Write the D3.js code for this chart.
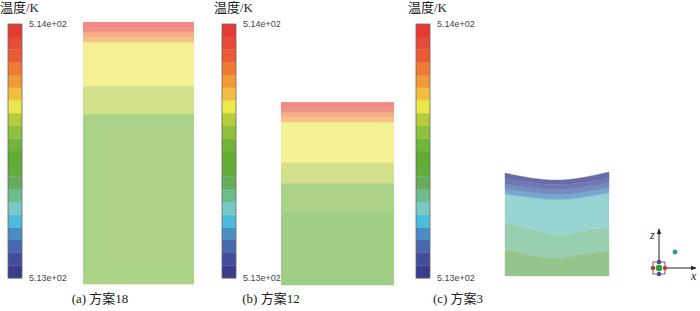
<!DOCTYPE html>
<html>
<head>
<meta charset="utf-8">
<script src="https://cdn.jsdelivr.net/npm/d3@7"></script>
<style>
  body { margin: 0; background: #fff; }
  svg { display: block; }
</style>
</head>
<body>
<svg width="700" height="311"></svg>
<script>

// colour map of the legend, from coldest (level 0) to hottest (level 19)
var colormap = ["#3a3c8c", "#424e9c", "#4a68ac", "#4c8cc4", "#4cbcdc",
                "#78c8c4", "#6cbc8c", "#66ac5c", "#64ac3c", "#62ac34",
                "#72b43a", "#8ec03c", "#b4cc3e", "#ece84c", "#f2be40",
                "#f29a38", "#ee7a34", "#ea5a34", "#e84a3a", "#e63a35"];
var tempRange = [513, 514];
var tickLabels = ["5.13e+02", "5.14e+02"];
var legendTitle = "温度/K";
var captions = ["(a) 方案18", "(b) 方案12", "(c) 方案3"];

// flat bands, heights as fraction of the tallest column: [bottom, top, level]
var bandsA = [[0, 0.649, 10], [0.649, 0.756, 12], [0.756, 0.924, 13],
              [0.924, 0.943, 15], [0.943, 0.962, 16], [0.962, 0.981, 18], [0.981, 1.0, 19]];
var bandsB = [[0, 0.275, 9], [0.275, 0.389, 10], [0.389, 0.469, 12], [0.469, 0.622, 13],
              [0.622, 0.641, 15], [0.641, 0.660, 16], [0.660, 0.679, 18], [0.679, 0.698, 19]];

// curved bands of case 3: boundary heights at x = 0, .25, .5, .75, 1
var xsC = [0, 0.25, 0.5, 0.75, 1];
var boundsC = [
  [0, 0, 0, 0, 0],
  [0.099, 0.081, 0.069, 0.084, 0.095],
  [0.206, 0.180, 0.158, 0.172, 0.187],
  [0.313, 0.300, 0.292, 0.301, 0.317],
  [0.332, 0.319, 0.311, 0.320, 0.336],
  [0.351, 0.338, 0.330, 0.339, 0.355],
  [0.370, 0.357, 0.349, 0.358, 0.374],
  [0.393, 0.374, 0.366, 0.376, 0.397]
];
var levelsC = [7, 6, 5, 3, 2, 1, 0];

var svg = d3.select("svg");
var serif = "'Liberation Serif', 'Noto Sans CJK SC', serif";
var sans = "'Liberation Sans', Arial, sans-serif";

function tint(level, a) {
  var c = d3.rgb(colormap[level]);
  return d3.rgb(c.r * a + 255 * (1 - a), c.g * a + 255 * (1 - a), c.b * a + 255 * (1 - a)).toString();
}

// ---- legends ----
var legendX = [8, 222, 416];
var levelBand = d3.scaleBand().domain(d3.range(colormap.length).reverse()).range([24, 278]);
var tScale = d3.scaleLinear().domain(tempRange).range([278, 24]);

legendX.forEach(function(x0) {
  var g = svg.append("g");
  g.append("text").attr("x", x0 - 8).attr("y", 12)
    .style("font-family", serif).style("font-size", "13px").attr("fill", "#222")
    .text(legendTitle);
  g.selectAll("rect.seg").data(colormap).enter().append("rect")
    .attr("class", "seg")
    .attr("x", x0).attr("width", 14)
    .attr("y", function(d, i) { return levelBand(i); })
    .attr("height", levelBand.bandwidth() + 0.3)
    .attr("fill", function(d) { return d; });
  g.append("rect").attr("x", x0).attr("y", 24).attr("width", 14).attr("height", 254)
    .attr("fill", "none").attr("stroke", "#666").attr("stroke-width", 0.8);
  g.selectAll("text.tick").data(tempRange).enter().append("text")
    .attr("class", "tick")
    .attr("x", x0 + 21)
    .attr("y", function(d) { return tScale(d) + 3; })
    .style("font-family", sans).style("font-size", "9px").attr("fill", "#444")
    .text(function(d, i) { return tickLabels[i]; });
});

// ---- flat columns ----
function drawFlat(bands, x0, x1, bottom) {
  var y = d3.scaleLinear().domain([0, 1]).range([bottom, bottom - 262]);
  svg.append("g").selectAll("rect").data(bands).enter().append("rect")
    .attr("x", x0).attr("width", x1 - x0)
    .attr("y", function(d) { return y(d[1]); })
    .attr("height", function(d) { return y(d[0]) - y(d[1]) + 0.3; })
    .attr("fill", function(d) { return tint(d[2], 0.6); });
}
drawFlat(bandsA, 83, 194, 284);
drawFlat(bandsB, 281, 394, 285);

// ---- curved column ----
var xC = d3.scaleLinear().domain([0, 1]).range([505, 609]);
var yC = d3.scaleLinear().domain([0, 1]).range([276, 14]);
var line = d3.line().x(function(d) { return xC(d[0]); }).y(function(d) { return yC(d[1]); })
  .curve(d3.curveNatural);
var gC = svg.append("g");
levelsC.forEach(function(lv, k) {
  var lo = boundsC[k], hi = boundsC[k + 1];
  var top = xsC.map(function(x, i) { return [x, hi[i]]; });
  var bot = xsC.map(function(x, i) { return [x, lo[i]]; }).reverse();
  var d = line(top) + "L" + line(bot).slice(1) + "Z";
  var col = tint(lv, k < 2 ? 0.7 : 0.76);
  gC.append("path").attr("d", d).attr("fill", col)
    .attr("stroke", col).attr("stroke-width", 0.4);
});

// ---- captions ----
svg.selectAll("text.cap").data(captions).enter().append("text")
  .attr("class", "cap")
  .attr("x", function(d, i) { return [100, 271, 458][i]; })
  .attr("y", 303)
  .attr("text-anchor", "middle")
  .style("font-family", serif).style("font-size", "13px").attr("fill", "#222")
  .text(function(d) { return d; });

// ---- axis triad ----
var tri = svg.append("g");
var defs = svg.append("defs");
defs.append("marker").attr("id", "arr").attr("viewBox", "0 0 10 10")
  .attr("refX", 9).attr("refY", 5).attr("markerWidth", 6).attr("markerHeight", 6)
  .attr("orient", "auto")
  .append("path").attr("d", "M0,1L10,5L0,9Z").attr("fill", "#222");
tri.append("line").attr("x1", 659).attr("y1", 262).attr("x2", 659).attr("y2", 229)
  .attr("stroke", "#222").attr("stroke-width", 1).attr("marker-end", "url(#arr)");
tri.append("line").attr("x1", 665).attr("y1", 268).attr("x2", 696).attr("y2", 268)
  .attr("stroke", "#222").attr("stroke-width", 1).attr("marker-end", "url(#arr)");
tri.append("rect").attr("x", 653).attr("y", 262).attr("width", 12).attr("height", 12)
  .attr("fill", "#fff").attr("stroke", "#444").attr("stroke-width", 0.8);
tri.append("circle").attr("cx", 653).attr("cy", 268).attr("r", 2.2).attr("fill", "#c0392b");
tri.append("circle").attr("cx", 665).attr("cy", 268).attr("r", 2.2).attr("fill", "#c0392b");
tri.append("circle").attr("cx", 659).attr("cy", 262).attr("r", 2.2).attr("fill", "#5b3f9e");
tri.append("circle").attr("cx", 659).attr("cy", 274).attr("r", 2.2).attr("fill", "#5b3f9e");
tri.append("circle").attr("cx", 659).attr("cy", 268).attr("r", 3.2).attr("fill", "#2e9e3a");
tri.append("circle").attr("cx", 675).attr("cy", 252).attr("r", 2.4).attr("fill", "#2a9aa0");
tri.append("text").attr("x", 650).attr("y", 239).style("font-family", serif)
  .style("font-style", "italic").style("font-size", "12px").attr("fill", "#222").text("z");
tri.append("text").attr("x", 691).attr("y", 280).style("font-family", serif)
  .style("font-style", "italic").style("font-size", "12px").attr("fill", "#222").text("x");

</script>
</body>
</html>
